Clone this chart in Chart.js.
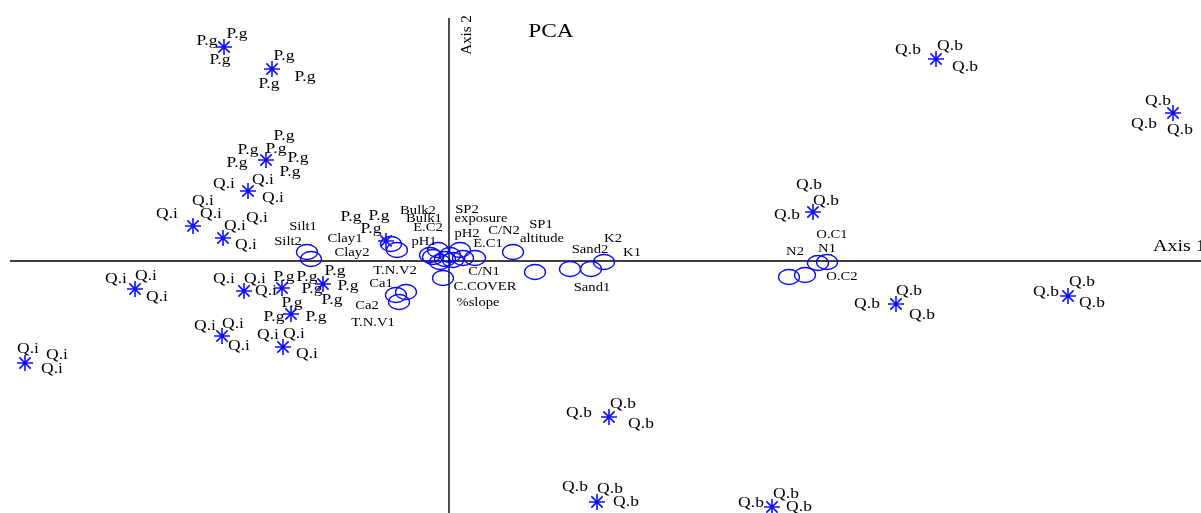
<!DOCTYPE html>
<html>
<head>
<meta charset="utf-8">
<script src="https://cdn.jsdelivr.net/npm/chart.js@4"></script>
<style>
  html, body { margin: 0; padding: 0; background: #fff; }
  #wrap { width: 1201px; height: 513px; position: relative; }
</style>
</head>
<body>
<div id="wrap"><canvas id="pcaChart"></canvas></div>
<script>
// sample scores (one asterisk per group of replicates)
const sampleScores = [
  [-2.25, 2.14], [-1.77, 1.92], [-1.83, 1.01], [-2.01, 0.70], [-2.56, 0.35],
  [-2.26, 0.23], [-3.14, -0.28], [-2.05, -0.30], [-1.67, -0.27], [-1.26, -0.23],
  [-1.58, -0.53], [-2.27, -0.75], [-1.66, -0.86], [-4.24, -1.02], [-0.63, 0.20],
  [4.87, 2.02], [7.24, 1.48], [3.64, 0.49], [4.47, -0.43], [6.19, -0.35],
  [1.60, -1.56], [1.48, -2.41], [3.23, -2.46]
];

// sample label positions
const sampleNames = [
  ['P.g', -2.42, 2.20], ['P.g', -2.12, 2.27], ['P.g', -2.29, 2.01],
  ['P.g', -1.65, 2.05], ['P.g', -1.44, 1.84], ['P.g', -1.80, 1.77],
  ['P.g', -1.65, 1.25], ['P.g', -2.01, 1.11], ['P.g', -1.73, 1.12],
  ['P.g', -1.51, 1.03], ['P.g', -2.12, 0.98], ['P.g', -1.59, 0.89],
  ['Q.i', -2.25, 0.77], ['Q.i', -1.86, 0.81], ['Q.i', -1.76, 0.63],
  ['Q.i', -2.82, 0.47], ['Q.i', -2.46, 0.60], ['Q.i', -2.38, 0.47],
  ['Q.i', -1.92, 0.43], ['Q.i', -2.14, 0.35], ['Q.i', -2.03, 0.16],
  ['Q.i', -3.33, -0.18], ['Q.i', -3.03, -0.15], ['Q.i', -2.92, -0.36],
  ['Q.i', -2.25, -0.18], ['Q.i', -1.94, -0.18], ['Q.i', -1.83, -0.30],
  ['P.g', -1.65, -0.16], ['P.g', -1.42, -0.16], ['P.g', -1.37, -0.28],
  ['P.g', -1.14, -0.10], ['P.g', -1.01, -0.25], ['P.g', -1.17, -0.39],
  ['P.g', -1.57, -0.42], ['P.g', -1.75, -0.56], ['P.g', -1.33, -0.56],
  ['Q.i', -2.44, -0.65], ['Q.i', -2.16, -0.63], ['Q.i', -2.10, -0.85],
  ['Q.i', -1.81, -0.74], ['Q.i', -1.55, -0.73], ['Q.i', -1.42, -0.93],
  ['Q.i', -4.21, -0.88], ['Q.i', -3.92, -0.94], ['Q.i', -3.97, -1.08],
  ['P.g', -0.98, 0.44], ['P.g', -0.70, 0.45], ['P.g', -0.78, 0.32],
  ['Q.b', 4.59, 2.11], ['Q.b', 5.01, 2.15], ['Q.b', 5.16, 1.94],
  ['Q.b', 7.09, 1.60], ['Q.b', 6.95, 1.37], ['Q.b', 7.31, 1.31],
  ['Q.b', 3.60, 0.76], ['Q.b', 3.77, 0.60], ['Q.b', 3.38, 0.46],
  ['Q.b', 4.60, -0.30], ['Q.b', 4.18, -0.43], ['Q.b', 4.73, -0.54],
  ['Q.b', 6.33, -0.21], ['Q.b', 5.97, -0.31], ['Q.b', 6.43, -0.42],
  ['Q.b', 1.30, -1.52], ['Q.b', 1.74, -1.43], ['Q.b', 1.92, -1.63],
  ['Q.b', 1.26, -2.26], ['Q.b', 1.61, -2.28], ['Q.b', 1.77, -2.41],
  ['Q.b', 3.02, -2.42], ['Q.b', 3.37, -2.33], ['Q.b', 3.50, -2.46]
];

// variable loadings (circles)
const varLoadings = [
  [-1.42, 0.09], [-1.38, 0.02], [-0.58, 0.17], [-0.52, 0.11],
  [-0.53, -0.34], [-0.43, -0.31], [-0.50, -0.41],
  [-0.19, 0.06], [-0.11, 0.11], [-0.09, -0.01], [-0.06, -0.17], [0.01, 0.06],
  [0.11, 0.11], [0.14, 0.03], [0.26, 0.03], [0.04, 0.01], [-0.16, 0.04], [-0.04, 0.02],
  [0.64, 0.09], [0.86, -0.11], [1.21, -0.08], [1.42, -0.08], [1.55, -0.01],
  [3.40, -0.16], [3.56, -0.14], [3.69, -0.02], [3.78, -0.01]
];

const varNames = [
  ['Silt1', -1.46, 0.34], ['Silt2', -1.61, 0.19], ['Clay1', -1.04, 0.22], ['Clay2', -0.97, 0.08],
  ['Bulk2', -0.31, 0.50], ['Bulk1', -0.25, 0.42], ['E.C2', -0.21, 0.33], ['pH1', -0.25, 0.19],
  ['T.N.V2', -0.54, -0.10], ['Ca1', -0.68, -0.23], ['Ca2', -0.82, -0.45], ['T.N.V1', -0.76, -0.62],
  ['SP2', 0.18, 0.51], ['exposure', 0.32, 0.42], ['pH2', 0.18, 0.27], ['C/N2', 0.55, 0.30],
  ['E.C1', 0.39, 0.17], ['SP1', 0.92, 0.36], ['altitude', 0.93, 0.22], ['Sand2', 1.41, 0.11],
  ['K2', 1.64, 0.22], ['K1', 1.83, 0.08], ['C/N1', 0.35, -0.11], ['C.COVER', 0.36, -0.26],
  ['%slope', 0.29, -0.42], ['Sand1', 1.43, -0.27],
  ['O.C1', 3.83, 0.26], ['N1', 3.78, 0.12], ['N2', 3.46, 0.09], ['O.C2', 3.93, -0.16]
];

const xRange = [-4.49, 7.52];
const yRange = [-2.52, 2.61];

// ellipse marker for the variables
function ellipseMarker() {
  const c = document.createElement('canvas');
  c.width = 24; c.height = 18;
  const g = c.getContext('2d');
  g.strokeStyle = '#0a0aff';
  g.lineWidth = 1.3;
  g.beginPath();
  g.ellipse(12, 9, 10.5, 7.5, 0, 0, Math.PI * 2);
  g.stroke();
  return c;
}

const toPts = arr => arr.map(p => ({ x: p[0], y: p[1] }));

// text labels, stretched horizontally like the original export
const labelPlugin = {
  id: 'pcaLabels',
  afterDatasetsDraw(chart) {
    const { ctx, scales: { x, y } } = chart;
    const put = (txt, px, py, size, sx, align) => {
      ctx.save();
      ctx.translate(px, py);
      ctx.scale(sx, 1);
      ctx.font = size + 'px "Liberation Serif", "DejaVu Serif", serif';
      ctx.fillStyle = '#000';
      ctx.textAlign = align || 'center';
      ctx.textBaseline = 'middle';
      ctx.fillText(txt, 0, 0);
      ctx.restore();
    };
    sampleNames.forEach(l => put(l[0], x.getPixelForValue(l[1]), y.getPixelForValue(l[2]), 14, 1.25));
    varNames.forEach(l => put(l[0], x.getPixelForValue(l[1]), y.getPixelForValue(l[2]), 12, 1.22));

    // title and axis names
    put('PCA', x.getPixelForValue(1.02), y.getPixelForValue(2.29), 18, 1.3);
    put('Axis 1', x.getPixelForValue(7.04), y.getPixelForValue(0.14), 16, 1.25, 'left');
    ctx.save();
    ctx.translate(x.getPixelForValue(0.18), y.getPixelForValue(2.26));
    ctx.rotate(-Math.PI / 2);
    ctx.font = '15px "Liberation Serif", serif';
    ctx.fillStyle = '#000';
    ctx.textAlign = 'center';
    ctx.textBaseline = 'middle';
    ctx.fillText('Axis 2', 0, 0);
    ctx.restore();
  }
};

new Chart(document.getElementById('pcaChart'), {
  type: 'scatter',
  data: {
    datasets: [
      {
        label: 'samples',
        data: toPts(sampleScores),
        pointStyle: 'star',
        pointRadius: 8,
        borderColor: '#1010ff',
        borderWidth: 1.6,
        backgroundColor: '#1010ff'
      },
      {
        label: 'variables',
        data: toPts(varLoadings),
        pointStyle: ellipseMarker(),
        pointRadius: 10
      },
      {
        label: 'axis1',
        data: [{ x: -4.39, y: 0 }, { x: 7.52, y: 0 }],
        showLine: true,
        pointRadius: 0,
        borderColor: '#000',
        borderWidth: 1.4
      },
      {
        label: 'axis2',
        data: [{ x: 0, y: -2.52 }, { x: 0, y: 2.43 }],
        showLine: true,
        pointRadius: 0,
        borderColor: '#000',
        borderWidth: 1.4
      }
    ]
  },
  options: {
    responsive: true,
    maintainAspectRatio: false,
    animation: false,
    layout: { padding: 0, autoPadding: false },
    plugins: {
      legend: { display: false },
      tooltip: { enabled: false }
    },
    scales: {
      x: { type: 'linear', min: xRange[0], max: xRange[1], display: false },
      y: { type: 'linear', min: yRange[0], max: yRange[1], display: false }
    }
  },
  plugins: [labelPlugin]
});
</script>
</body>
</html>
